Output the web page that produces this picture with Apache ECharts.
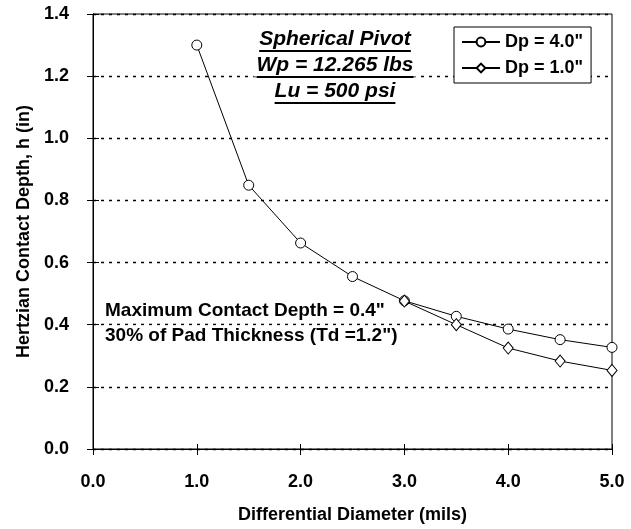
<!DOCTYPE html>
<html>
<head>
<meta charset="utf-8">
<script src="https://cdn.jsdelivr.net/npm/echarts@6/dist/echarts.min.js"></script>
<style>
html,body{margin:0;padding:0;background:#fff;}
#chart{width:631px;height:529px;}
</style>
</head>
<body>
<div id="chart"></div>
<script>
// ---- data ----
const xDp4 = [1.0, 1.5, 2.0, 2.5, 3.0, 3.5, 4.0, 4.5, 5.0];
const yDp4 = [1.30, 0.849, 0.663, 0.555, 0.477, 0.427, 0.386, 0.352, 0.327];
const xDp1 = [3.0, 3.5, 4.0, 4.5, 5.0];
const yDp1 = [0.476, 0.400, 0.325, 0.283, 0.253];
const seriesNames = ['Dp = 4.0"', 'Dp = 1.0"'];
const titleLines = ['Spherical Pivot', 'Wp = 12.265 lbs', 'Lu = 500 psi'];
const noteLines = ['Maximum Contact Depth = 0.4"', '30% of Pad Thickness (Td =1.2")'];
const xAxisName = 'Differential Diameter (mils)';
const yAxisName = 'Hertzian Contact Depth, h (in)';

const FONT = "'Liberation Sans', Arial, sans-serif";
const chart = echarts.init(document.getElementById('chart'), null, {renderer: 'canvas'});

function measure(text, font) {
  const c = document.createElement('canvas').getContext('2d');
  c.font = font;
  return c.measureText(text).width;
}

// title block graphics (text + underline)
const titleFontSize = 21;
const titleCx = 335;
const titleYs = [39, 65, 91];
const graphics = [];
titleLines.forEach((t, i) => {
  const w = measure(t, 'italic bold ' + titleFontSize + 'px ' + FONT);
  graphics.push({
    type: 'text', z: 100,
    style: {
      text: t, x: titleCx, y: titleYs[i], align: 'center', verticalAlign: 'middle',
      font: 'italic bold ' + titleFontSize + 'px ' + FONT, fill: '#000',
      backgroundColor: '#fff', padding: [1, 3]
    }
  });
  graphics.push({
    type: 'line', z: 101,
    shape: {x1: titleCx - w / 2, y1: titleYs[i] + 12, x2: titleCx + w / 2, y2: titleYs[i] + 12},
    style: {stroke: '#000', lineWidth: 2}
  });
});
const noteYs = [311, 336];
noteLines.forEach((t, i) => {
  graphics.push({
    type: 'text', z: 100,
    style: {
      text: t, x: 103, y: noteYs[i], align: 'left', verticalAlign: 'middle',
      font: 'bold 19px ' + FONT, fill: '#000', backgroundColor: '#fff', padding: [1, 2]
    }
  });
});

const lineStyle = {color: '#000', width: 1};
const axisCommon = {
  min: 0,
  axisLine: {show: false},
  splitLine: {show: false},
  axisLabel: {show: false},
};
const labelFont = {fontFamily: FONT, fontWeight: 'bold', fontSize: 18, color: '#000'};

const option = {
  backgroundColor: '#fff',
  animation: false,
  grid: {left: 93, right: 19, top: 14, bottom: 80, show: true, borderColor: '#000', borderWidth: 1, backgroundColor: 'transparent'},
  legend: {
    orient: 'vertical', left: 454, top: 27,
    data: seriesNames,
    itemWidth: 38, itemHeight: 11, itemGap: 8,
    padding: [6, 8, 6, 7],
    borderColor: '#000', borderWidth: 1, backgroundColor: '#fff',
    textStyle: {fontFamily: FONT, fontWeight: 'bold', fontSize: 18, color: '#000'},
    z: 50
  },
  xAxis: [{
    type: 'value', min: 0, max: 5, interval: 1,
    name: xAxisName, nameLocation: 'middle', nameGap: 57,
    nameTextStyle: labelFont,
    axisLine: {show: true, lineStyle: {color: '#000', width: 1}},
    axisTick: {show: true, inside: false, length: 6, lineStyle: {color: '#000'}},
    axisLabel: Object.assign({margin: 24, formatter: v => v.toFixed(1)}, labelFont),
    splitLine: {show: false}
  }, Object.assign({}, axisCommon, {
    type: 'value', max: 5, interval: 1, position: 'bottom',
    axisTick: {show: true, inside: true, length: 5, lineStyle: {color: '#000'}}
  })],
  yAxis: [{
    type: 'value', min: 0, max: 1.4, interval: 0.2,
    name: yAxisName, nameLocation: 'middle', nameGap: 60, nameRotate: 90,
    nameTextStyle: labelFont,
    axisLine: {show: true, lineStyle: {color: '#000', width: 1}},
    axisTick: {show: true, inside: false, length: 6, lineStyle: {color: '#000'}},
    axisLabel: Object.assign({margin: 24, formatter: v => v.toFixed(1)}, labelFont),
    splitLine: {show: true, lineStyle: {color: '#000', type: [3, 5], width: 1.3}}
  }, Object.assign({}, axisCommon, {
    type: 'value', max: 1.4, interval: 0.2, position: 'left',
    axisTick: {show: true, inside: true, length: 6, lineStyle: {color: '#000'}}
  })],
  series: [{
    name: seriesNames[0], type: 'line',
    data: xDp4.map((x, i) => [x, yDp4[i]]),
    symbol: 'circle', symbolSize: 10,
    lineStyle: lineStyle,
    itemStyle: {color: '#fff', borderColor: '#000', borderWidth: 1},
    z: 10
  }, {
    name: seriesNames[1], type: 'line',
    data: xDp1.map((x, i) => [x, yDp1[i]]),
    symbol: 'diamond', symbolSize: [10, 12],
    lineStyle: lineStyle,
    itemStyle: {color: '#fff', borderColor: '#000', borderWidth: 1},
    z: 11
  }],
  graphic: graphics
};
chart.setOption(option);
</script>
</body>
</html>
